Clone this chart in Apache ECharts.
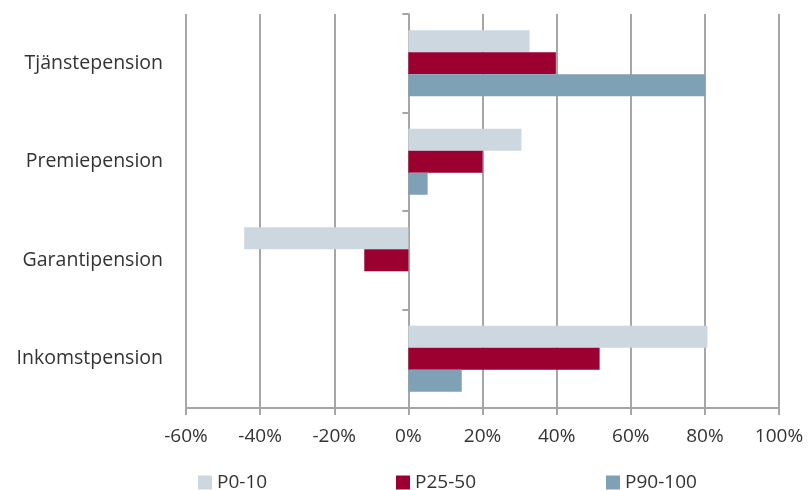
<!DOCTYPE html>
<html lang="sv">
<head>
    <meta charset="utf-8" />
    <title>Pension</title>
    <script src="https://cdn.jsdelivr.net/npm/echarts@6/dist/echarts.min.js"></script>
</head>
<body style="margin:0">
    <div id="main" style="width:808px;height:490px"></div>
    <script>
        // kategorier nedifrån och upp (echarts ritar y-kategorier från botten)
        var categories = ['Inkomstpension', 'Garantipension', 'Premiepension', 'Tjänstepension'];
        var p0_10 = [80.7, -44.3, 30.5, 32.7];
        var p25_50 = [51.6, -11.9, 20.0, 39.8];
        var p90_100 = [14.4, 0, 5.2, 80.0];
        var seriesNames = ['P0-10', 'P25-50', 'P90-100'];
        var colors = ['#cdd7e0', '#9b0030', '#7fa1b6'];

        var myChart = echarts.init(document.getElementById('main'));
        var font = '"Open Sans", sans-serif';
        var gray = '#a6a6a6';

        var legendLeft = [193, 391, 601];
        var legends = seriesNames.map(function (n, i) {
            return {
                data: [n],
                left: legendLeft[i],
                top: 468,
                icon: 'rect',
                itemWidth: 14,
                itemHeight: 14,
                itemGap: 5,
                selectedMode: false,
                textStyle: { fontFamily: font, fontSize: 19, color: '#333' }
            };
        });

        var dataSets = [p0_10, p25_50, p90_100];
        var option = {
            animation: false,
            color: colors,
            legend: legends,
            grid: { left: 186, right: 29, top: 14, bottom: 82, containLabel: false },
            xAxis: {
                type: 'value',
                min: -60,
                max: 100,
                interval: 20,
                axisLine: { show: true, lineStyle: { color: gray, width: 2 } },
                axisTick: { show: true, length: 7, lineStyle: { color: gray, width: 2 } },
                splitLine: { show: true, lineStyle: { color: gray, width: 2 } },
                axisLabel: {
                    formatter: '{value}%',
                    margin: 19,
                    fontFamily: font,
                    fontSize: 19,
                    color: '#333'
                }
            },
            yAxis: [{
                type: 'category',
                data: categories,
                position: 'left',
                axisLine: { show: false, onZero: false },
                axisTick: { show: false },
                axisLabel: { margin: 23, fontFamily: font, fontSize: 19.5, color: '#333' }
            }, {
                // nollinjen med små streck mellan kategorierna
                type: 'category',
                data: categories,
                position: 'right',
                axisLine: { show: true, onZero: true, lineStyle: { color: gray, width: 2 } },
                axisTick: { show: true, inside: true, length: 6, lineStyle: { color: gray, width: 2 } },
                axisLabel: { show: false }
            }],
            series: dataSets.map(function (d, i) {
                return {
                    name: seriesNames[i],
                    type: 'bar',
                    yAxisIndex: 0,
                    data: d,
                    barWidth: 22,
                    barGap: '0%',
                    barCategoryGap: '33%'
                };
            })
        };
        myChart.setOption(option);
    </script>
</body>
</html>
